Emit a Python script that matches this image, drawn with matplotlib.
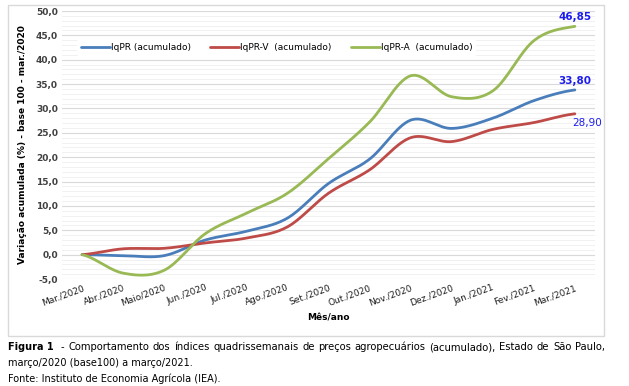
import numpy as np
import matplotlib
matplotlib.use('Agg')
import matplotlib.pyplot as plt
from matplotlib.patches import Rectangle

meses = ['Mar./2020', 'Abr./2020', 'Maio/2020', 'Jun./2020', 'Jul./2020', 'Ago./2020',
         'Set./2020', 'Out./2020', 'Nov./2020', 'Dez./2020', 'Jan./2021', 'Fev./2021',
         'Mar./2021']
iqpr = [0.0, -0.2, -0.2, 3.0, 4.8, 7.5, 14.6, 19.6, 27.6, 25.9, 28.0, 31.6, 33.80]
iqpr_v = [0.0, 1.2, 1.3, 2.4, 3.4, 5.7, 12.6, 17.4, 24.0, 23.2, 25.7, 27.1, 28.90]
iqpr_a = [0.0, -3.8, -3.2, 4.3, 8.5, 12.6, 19.7, 27.2, 36.7, 32.4, 33.6, 43.9, 46.85]
nomes = ['IqPR (acumulado)', 'IqPR-V  (acumulado)', 'IqPR-A  (acumulado)']
cores = ['#4a7ebb', '#be4b48', '#98b954']

legenda_fig = ('- Comportamento dos índices quadrissemanais de preços agropecuários '
               '(acumulado), Estado de São Paulo,')


def suaviza(y, n=30):
    # Catmull-Rom, parecido com a "linha suavizada" do Excel
    y = np.asarray(y, dtype=float)
    p = np.concatenate([[y[0]], y, [y[-1]]])
    xs, ys = [], []
    t = np.linspace(0, 1, n, endpoint=False)
    for i in range(len(y) - 1):
        p0, p1, p2, p3 = p[i], p[i + 1], p[i + 2], p[i + 3]
        m1 = (p2 - p0) / 2
        m2 = (p3 - p1) / 2
        h00 = 2 * t**3 - 3 * t**2 + 1
        h10 = t**3 - 2 * t**2 + t
        h01 = -2 * t**3 + 3 * t**2
        h11 = t**3 - t**2
        xs.append(i + t)
        ys.append(h00 * p1 + h10 * m1 + h01 * p2 + h11 * m2)
    xs.append([len(y) - 1])
    ys.append([y[-1]])
    return np.concatenate(xs), np.concatenate(ys)


def texto_justificado(fig, frase, x0, x1, y, **kw):
    # distribui as palavras entre x0 e x1 (pixels), como no documento original
    palavras = frase.split()
    r = fig.canvas.get_renderer()
    artistas = [fig.text(0, 0, p, **kw) for p in palavras]
    larguras = [a.get_window_extent(renderer=r).width for a in artistas]
    espaco = (x1 - x0 - sum(larguras)) / (len(palavras) - 1)
    x = x0
    for a, w in zip(artistas, larguras):
        a.set_position((x / 629, y))
        x += w + espaco


fig = plt.figure(figsize=(6.29, 3.86), dpi=100)
fig.patches.append(Rectangle((8 / 629, 1 - 336 / 386), 596 / 629, 331 / 386,
                             transform=fig.transFigure, fill=False,
                             edgecolor='#d9d9d9', linewidth=1.0))
ax = fig.add_axes([62 / 629, 1 - 279 / 386, 533 / 629, 268 / 386])

x = np.arange(len(meses))
for serie, nome, cor in zip([iqpr, iqpr_v, iqpr_a], nomes, cores):
    xs, ys = suaviza(serie)
    ax.plot(xs, ys, color=cor, linewidth=2.0, label=nome, solid_capstyle='round')

ax.set_xlim(-0.49, 12.49)
ax.set_ylim(-5, 50)
ax.set_yticks(np.arange(-5, 51, 5))
ax.set_yticklabels([f'{v:.1f}'.replace('.', ',') for v in np.arange(-5, 51, 5)],
                   fontsize=6.5, fontweight='bold', color='#404040')
ax.set_yticks(np.arange(-5, 51, 1), minor=True)
ax.grid(True, which='major', axis='y', color='#d9d9d9', linewidth=0.8)
ax.grid(True, which='minor', axis='y', color='#efefef', linewidth=0.6)
ax.set_axisbelow(True)
ax.set_xticks(x)
ax.set_xticklabels(meses, rotation=20, ha='right', rotation_mode='anchor',
                   fontsize=6.5, color='#202020')
ax.tick_params(axis='both', length=0, pad=3)
ax.tick_params(axis='y', which='minor', length=0)
for s in ax.spines.values():
    s.set_visible(False)

ax.set_ylabel('Variação acumulada (%) - base 100 - mar./2020', fontsize=6.5,
              fontweight='bold', labelpad=6)
ax.set_xlabel('Mês/ano', fontsize=6.5, fontweight='bold', labelpad=4)

leg = ax.legend(loc='upper left', bbox_to_anchor=(0.02, 0.91), ncol=3, fontsize=6.5,
                frameon=True, facecolor='white', edgecolor='white', framealpha=1,
                handlelength=3.2, handletextpad=0.1, columnspacing=2.2,
                borderpad=0.4)
leg.get_frame().set_linewidth(0)

azul = '#1c1cf0'
ax.annotate('46,85', (12, iqpr_a[-1]), xytext=(0, 3), textcoords='offset points',
            ha='center', va='bottom', fontsize=7.5, fontweight='bold', color=azul)
ax.annotate('33,80', (12, iqpr[-1]), xytext=(0, 3), textcoords='offset points',
            ha='center', va='bottom', fontsize=7.5, fontweight='bold', color=azul)
ax.annotate('28,90', (12, iqpr_v[-1]), xytext=(9, -3), textcoords='offset points',
            ha='center', va='top', fontsize=7.5, color=azul)

fig.text(8 / 629, 1 - 347 / 386, 'Figura 1', fontsize=7, fontweight='bold',
         va='center', ha='left')
texto_justificado(fig, legenda_fig, 61, 605, 1 - 347 / 386, fontsize=7.2,
                  va='center', ha='left')
fig.text(8 / 629, 1 - 363 / 386, 'março/2020 (base100) a março/2021.',
         fontsize=7, va='center', ha='left')
fig.text(8 / 629, 1 - 379 / 386, 'Fonte: Instituto de Economia Agrícola (IEA).',
         fontsize=7, va='center', ha='left')

fig.savefig('out.png', dpi=100)
